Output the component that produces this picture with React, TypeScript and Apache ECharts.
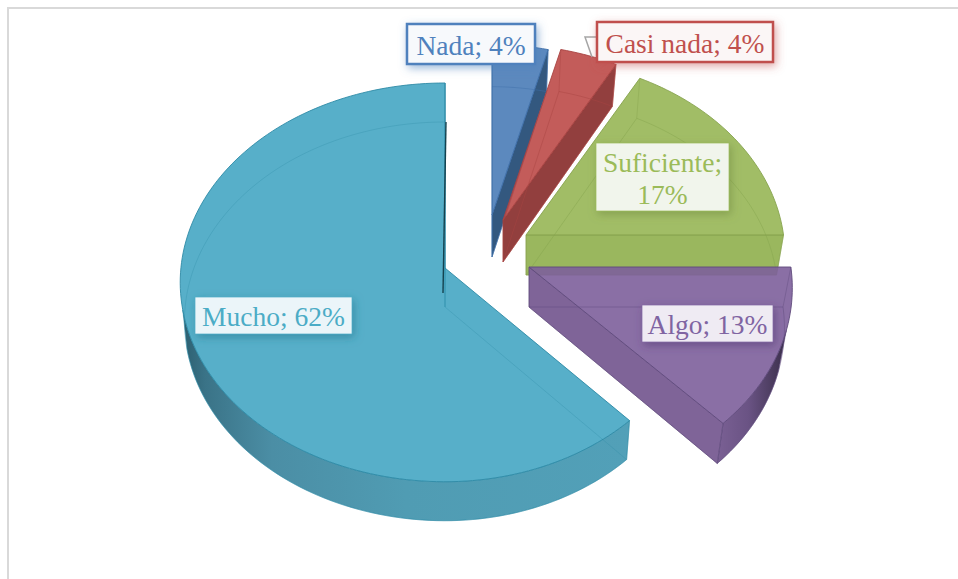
import React, { useEffect, useRef } from "react";
import * as echarts from "echarts";

const categories = ["Nada", "Casi nada", "Suficiente", "Algo", "Mucho"];
const percentValues = [4, 4, 17, 13, 62];

// Styling and layout (not data)
const topColors = ["#4A7CB7", "#BD4A48", "#97B655", "#7D5F9B", "#45A6C3"];
const edgeColors = ["#3F6FA8", "#A84442", "#86A34E", "#5F4A7C", "#2F8BA6"];
const radialColors = ["#33587F", "#923F3E", "#9AB75E", "#7F6498", "#14424F"];
const textColors = ["#4F81BD", "#C0504D", "#9BBB59", "#8064A2", "#4BACC6"];
const glowColors = [
  "rgba(79,129,189,0.55)",
  "rgba(192,80,77,0.5)",
  "rgba(110,135,60,0.55)",
  "rgba(80,55,110,0.55)",
  "rgba(40,120,145,0.6)",
];
const edgeLines = [
  "#4F81BD",
  "#C0504D",
  "rgba(155,187,89,0.7)",
  "rgba(128,100,162,0.7)",
  "rgba(75,172,198,0.7)",
];
const explodeOffsets = [[47, -53], [58, -48], [81, -33], [84, -1], [0, 0]];
const radiusScales = [0.97, 1, 1, 1, 1];
const perspective = [2500, 2500, 2500, 2500, 3636];
const depths = [42, 42, 40, 40, 39];
const floorShrink = [0.972, 0.968, 0.973, 0.97, 0.984];
const labelBoxes = [
  [407, 24, 128, 40],
  [597, 22, 176, 40],
  [596, 143, 133, 68],
  [642, 305, 131, 37],
  [195, 297, 157, 37],
];
const labelFills = ["#F7F9FC", "#FBF6F6", "#F1F5EC", "#EFEBF3", "#EBF5F9"];
const labelBorders = [2.5, 2.5, 1, 1, 1];
const labelBreaks = [false, false, true, false, false];

const CX = 445;
const CY = 268;
const R = 262;
const K = 0.757;
const OPACITY = 0.9;

function project(i: number, thetaDeg: number, r: number, floor: boolean): number[] {
  const [ox, oy] = explodeOffsets[i];
  const t = (thetaDeg * Math.PI) / 180;
  const rr = r * radiusScales[i];
  let wx = rr * Math.sin(t);
  const wy = -rr * Math.cos(t);
  if (i === 4) wx *= wx < 0 ? 1.008 : 0.975;
  const s = 1 / (1 - (wy + oy / K) / perspective[i]);
  const shrink = floor ? floorShrink[i] : 1;
  return [CX + ox + wx * s * shrink, CY + oy + wy * K * s + (floor ? depths[i] : 0)];
}

function sliceAngles(i: number): number[] {
  const total = percentValues.reduce((a, b) => a + b, 0);
  let sum = 0;
  for (let k = 0; k < i; k++) sum += percentValues[k];
  return [(sum / total) * 360, ((sum + percentValues[i]) / total) * 360];
}

function arcPoints(i: number, from: number, to: number, floor: boolean): number[][] {
  const pts: number[][] = [];
  const n = Math.max(2, Math.ceil(Math.abs(to - from) / 1.5));
  for (let k = 0; k <= n; k++) {
    pts.push(project(i, from + ((to - from) * k) / n, R, floor));
  }
  return pts;
}

function sideGradient(i: number) {
  if (i === 3) {
    return new echarts.graphic.LinearGradient(0, 0, 1, 0, [
      { offset: 0, color: "#7A6094" },
      { offset: 0.45, color: "#6A5384" },
      { offset: 1, color: "#3A2F4A" },
    ]);
  }
  return new echarts.graphic.LinearGradient(0, 0, 1, 0, [
    { offset: 0, color: "#2C5F70" },
    { offset: 0.05, color: "#3A7387" },
    { offset: 0.2, color: "#4B8EA5" },
    { offset: 0.5, color: "#509CB3" },
    { offset: 1, color: "#52A0B8" },
  ]);
}

function renderSlice(params: any) {
  const i = params.dataIndex;
  const [a0, a1] = sliceAngles(i);
  const children: any[] = [];
  const apexTop = project(i, 0, 0, false);
  const apexBottom = project(i, 0, 0, true);
  const topArc = arcPoints(i, a0, a1, false);
  const bottomArc = arcPoints(i, a0, a1, true);
  const lastTop = topArc[topArc.length - 1];
  const lastBottom = bottomArc[bottomArc.length - 1];

  // outer wall, only where it shows below the top face
  const f0 = Math.max(a0, 108);
  const f1 = Math.min(a1, 258);
  if (f1 > f0) {
    const wallTop = arcPoints(i, f0, f1, false);
    const wallBottom = arcPoints(i, f0, f1, true).reverse();
    children.push({
      type: "polygon",
      shape: { points: wallTop.concat(wallBottom) },
      style: { fill: sideGradient(i), stroke: edgeColors[i], lineWidth: 0.5 },
    });
  }

  // radial wall at the clockwise end of the slice
  children.push({
    type: "polygon",
    shape: { points: [apexTop, lastTop, lastBottom, apexBottom] },
    style: { fill: radialColors[i], stroke: edgeColors[i], lineWidth: 0.6 },
  });

  // top face
  children.push({
    type: "polygon",
    shape: { points: [apexTop].concat(topArc) },
    style: { fill: topColors[i], opacity: OPACITY, stroke: edgeColors[i], lineWidth: 1 },
  });

  // hidden edges seen through the translucent body
  children.push({
    type: "polygon",
    shape: { points: [apexBottom].concat(bottomArc) },
    style: { fill: "none", stroke: edgeColors[i], lineWidth: 1, opacity: i === 4 ? 0.3 : 0.45 },
  });
  [
    [apexTop, apexBottom],
    [topArc[0], bottomArc[0]],
    [lastTop, lastBottom],
  ].forEach((seg) => {
    children.push({
      type: "polyline",
      shape: { points: seg },
      style: { fill: "none", stroke: edgeColors[i], lineWidth: 1, opacity: 0.4 },
    });
  });

  // the closing wall of the big slice is seen almost edge-on
  if (i === 4) {
    children.push({
      type: "polyline",
      shape: { points: [[lastBottom[0] + 1, lastBottom[1]], [apexBottom[0] - 2, apexBottom[1] - 14]] },
      style: { fill: "none", stroke: radialColors[i], lineWidth: 1.4 },
    });
  }

  return { type: "group", children };
}

function renderLabel(params: any) {
  const i = params.dataIndex;
  const [x, y, w, h] = labelBoxes[i];
  const text = categories[i] + ";" + (labelBreaks[i] ? "\n" : " ") + percentValues[i] + "%";
  const children: any[] = [];
  if (i === 1) {
    children.push({
      type: "polyline",
      shape: { points: [[x, y + 15], [x - 12, y + 15], [x - 5, y + 35]] },
      style: { fill: "none", stroke: "#A6A6A6", lineWidth: 1.5 },
    });
  }
  children.push({
    type: "rect",
    shape: { x, y, width: w, height: h },
    style: {
      fill: labelFills[i],
      stroke: edgeLines[i],
      lineWidth: labelBorders[i],
      shadowBlur: 9,
      shadowOffsetX: 2,
      shadowOffsetY: 3,
      shadowColor: glowColors[i],
    },
  });
  children.push({
    type: "text",
    style: {
      x: x + w / 2,
      y: y + h / 2 + 1,
      text,
      fill: textColors[i],
      font: '27.5px "Liberation Serif"',
      lineHeight: 32,
      align: "center",
      verticalAlign: "middle",
    },
  });
  return { type: "group", children };
}

export default function App() {
  const ref = useRef<HTMLDivElement>(null);
  useEffect(() => {
    if (!ref.current) return;
    const chart = echarts.init(ref.current, null, { renderer: "svg" });
    chart.setOption({
      animation: false,
      backgroundColor: "#FFFFFF",
      graphic: [
        {
          type: "polyline",
          z: 0,
          shape: { points: [[8, 579], [8, 8], [958, 8]] },
          style: { fill: "none", stroke: "#D9D9D9", lineWidth: 2 },
        },
      ],
      series: [
        {
          type: "custom",
          coordinateSystem: "none",
          z: 2,
          data: percentValues.map((v) => [v]),
          renderItem: renderSlice,
        },
        {
          type: "custom",
          coordinateSystem: "none",
          z: 3,
          data: percentValues.map((v) => [v]),
          renderItem: renderLabel,
        },
      ],
    });
    return () => chart.dispose();
  }, []);
  return <div ref={ref} style={{ position: "absolute", left: 0, top: 0, width: 958, height: 579 }} />;
}
